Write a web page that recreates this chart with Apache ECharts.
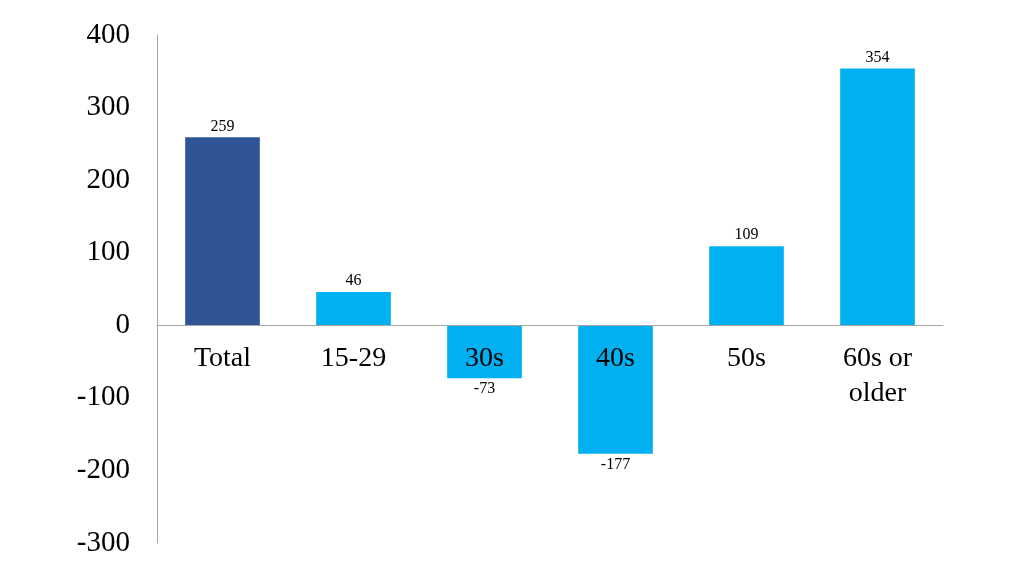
<!DOCTYPE html>
<html>
<head>
<meta charset="utf-8">
<script src="https://cdn.jsdelivr.net/npm/echarts@6/dist/echarts.min.js"></script>
<style>html,body{margin:0;padding:0;background:#fff}#c{width:1024px;height:576px}</style>
</head>
<body>
<div id="c"></div>
<script>
const categories = ['Total', '15-29', '30s', '40s', '50s', '60s or\nolder'];
const values = [259, 46, -73, -177, 109, 354];
const barColors = ['#2F5597', '#00B0F0', '#00B0F0', '#00B0F0', '#00B0F0', '#00B0F0'];
const yTicks = { min: -300, max: 400, interval: 100 };

const font = '"Liberation Serif", "Times New Roman", serif';
const gridTop = 35, gridBottom = 33, chartH = 576;
const plotH = chartH - gridTop - gridBottom;
// distance from the grid bottom edge up to the zero line
const zeroOffset = plotH * (0 - yTicks.min) / (yTicks.max - yTicks.min);

const chart = echarts.init(document.getElementById('c'));
chart.setOption({
  animation: false,
  grid: { left: 157, right: 81, top: gridTop, bottom: gridBottom, containLabel: false, outerBoundsMode: 'none' },
  xAxis: {
    type: 'category',
    data: categories,
    position: 'bottom',
    offset: -zeroOffset,
    axisLine: { onZero: false, lineStyle: { color: '#A6A6A6', width: 1 } },
    axisTick: { show: false },
    axisLabel: { color: '#000', fontFamily: font, fontSize: 28, margin: 16, lineHeight: 35, verticalAlign: 'top' },
    z: 10
  },
  yAxis: {
    type: 'value',
    min: yTicks.min, max: yTicks.max, interval: yTicks.interval,
    axisLine: { show: true, lineStyle: { color: '#A6A6A6', width: 1 } },
    axisTick: { show: false },
    splitLine: { show: false },
    axisLabel: { color: '#000', fontFamily: font, fontSize: 29, margin: 27 }
  },
  series: [{
    type: 'bar',
    barWidth: '57%',
    data: values.map((v, i) => ({
      value: v,
      itemStyle: { color: barColors[i] },
      label: { position: v >= 0 ? 'top' : 'bottom' }
    })),
    label: { show: true, color: '#000', fontFamily: font, fontSize: 16, distance: 3 }
  }]
});
</script>
</body>
</html>
